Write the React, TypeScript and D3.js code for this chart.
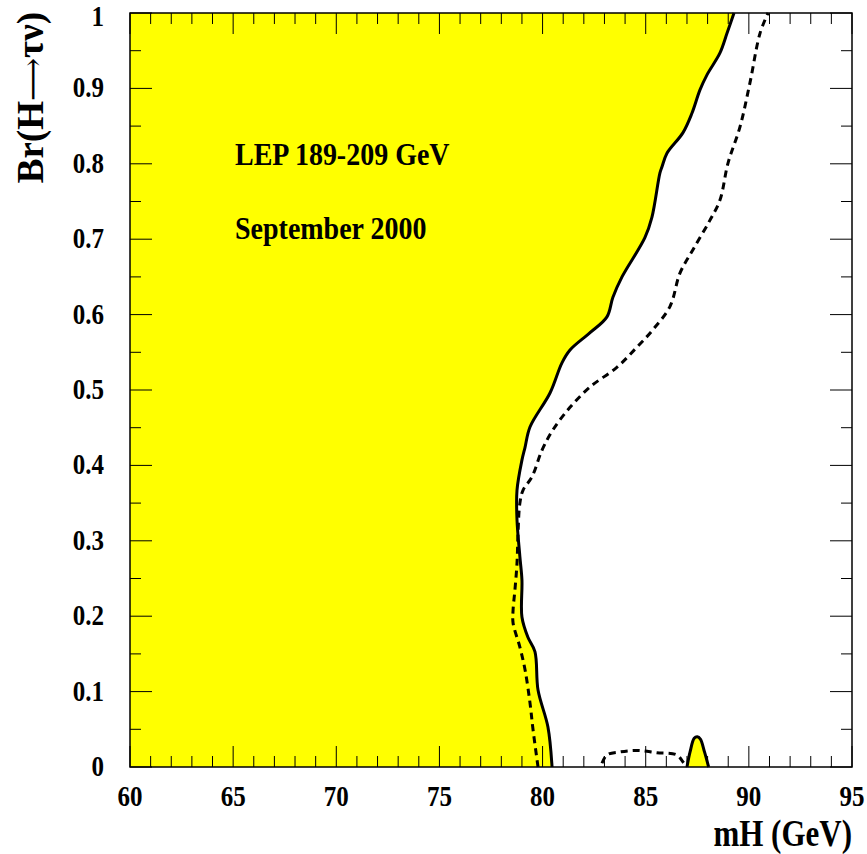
import React, { useEffect, useRef } from 'react';
import * as d3 from 'd3';

// observed exclusion boundary (solid), expected (dashed)
const solidMH = [80.46, 80.26, 79.78, 79.63, 79.29, 79.0, 79.0, 78.9, 78.76, 78.76, 79.0, 79.15, 79.39, 80.36, 80.94, 81.33, 82.3, 83.12, 83.41, 83.85, 84.96, 85.3, 85.69, 85.79, 86.03, 86.8, 87.24, 87.63, 87.97, 88.6, 88.94, 89.28];
const solidBr = [0, 0.053, 0.102, 0.153, 0.172, 0.199, 0.248, 0.279, 0.328, 0.367, 0.407, 0.424, 0.451, 0.496, 0.536, 0.553, 0.576, 0.597, 0.623, 0.65, 0.702, 0.729, 0.788, 0.796, 0.814, 0.841, 0.867, 0.898, 0.918, 0.947, 0.973, 1];

const dashedMH = [79.78, 79.54, 79.39, 79.15, 78.9, 78.57, 78.57, 78.66, 78.76, 78.81, 78.9, 79.05, 79.49, 79.97, 80.5, 81.33, 82.3, 83.6, 84.58, 85.35, 86.18, 86.66, 87.29, 88.11, 88.6, 88.99, 89.57, 90.05, 90.54, 90.93];
const dashedBr = [0, 0.049, 0.085, 0.129, 0.159, 0.191, 0.208, 0.235, 0.27, 0.31, 0.35, 0.367, 0.385, 0.42, 0.447, 0.477, 0.504, 0.53, 0.557, 0.58, 0.611, 0.655, 0.686, 0.725, 0.752, 0.801, 0.849, 0.907, 0.973, 1];

// small excluded island near 87.5 GeV
const islandMH = [87.0, 87.15, 87.35, 87.5, 87.65, 87.85, 88.05];
const islandBr = [0, 0.02, 0.038, 0.04, 0.037, 0.02, 0];

// small expected loop near the axis
const loopMH = [82.88, 83.12, 83.75, 84.6, 85.54, 86.51, 86.8, 87.0];
const loopBr = [0.005, 0.016, 0.02, 0.022, 0.019, 0.016, 0.007, 0];

const xTicks = [60, 65, 70, 75, 80, 85, 90, 95];
const yTicks = [0, 0.1, 0.2, 0.3, 0.4, 0.5, 0.6, 0.7, 0.8, 0.9, 1];

const W = 867;
const H = 854;
const M = { left: 130, right: 852, top: 13, bottom: 767 };
const FONT = '"Liberation Serif", "Times New Roman", serif';

const App = () => {
  const ref = useRef<SVGSVGElement>(null);

  useEffect(() => {
    const svg = d3.select(ref.current);
    svg.selectAll('*').remove();

    const x = d3.scaleLinear().domain([60, 95]).range([M.left, M.right]);
    const y = d3.scaleLinear().domain([0, 1]).range([M.bottom, M.top]);

    const toPts = (xs: number[], ys: number[]) => xs.map((v, i) => [v, ys[i]] as [number, number]);
    const line = d3.line<[number, number]>().x(d => x(d[0])).y(d => y(d[1])).curve(d3.curveCatmullRom.alpha(0.5));

    const solid = toPts(solidMH, solidBr);
    const area = d3.area<[number, number]>()
      .y(d => y(d[1]))
      .x0(() => x(60))
      .x1(d => x(d[0]))
      .curve(d3.curveCatmullRom.alpha(0.5));

    svg.append('rect').attr('x', 0).attr('y', 0).attr('width', W).attr('height', H).attr('fill', 'white');

    svg.append('path').attr('d', area(solid)).attr('fill', '#ffff00');
    svg.append('path').attr('d', line(toPts(islandMH, islandBr)) + 'Z').attr('fill', '#ffff00');

    // ticks (drawn over the fill)
    const g = svg.append('g').attr('stroke', 'black').attr('stroke-width', 1);
    d3.range(60, 95.01, 1).forEach(v => {
      const major = Math.abs(v % 5) < 1e-6;
      const len = major ? 21 : 11;
      g.append('line').attr('x1', x(v)).attr('x2', x(v)).attr('y1', M.bottom).attr('y2', M.bottom - len);
      g.append('line').attr('x1', x(v)).attr('x2', x(v)).attr('y1', M.top).attr('y2', M.top + len);
    });
    d3.range(0, 1.001, 0.05).forEach((v, i) => {
      const major = i % 2 === 0;
      const len = major ? 22 : 11;
      g.append('line').attr('y1', y(v)).attr('y2', y(v)).attr('x1', M.left).attr('x2', M.left + len);
      g.append('line').attr('y1', y(v)).attr('y2', y(v)).attr('x1', M.right).attr('x2', M.right - len);
    });

    // contours
    svg.append('path').attr('d', line(solid)).attr('fill', 'none').attr('stroke', 'black').attr('stroke-width', 3);
    svg.append('path').attr('d', line(toPts(islandMH, islandBr))).attr('fill', 'none').attr('stroke', 'black').attr('stroke-width', 3);
    svg.append('path').attr('d', line(toPts(dashedMH, dashedBr))).attr('fill', 'none').attr('stroke', 'black')
      .attr('stroke-width', 3).attr('stroke-dasharray', '7,5');
    svg.append('path').attr('d', line(toPts(loopMH, loopBr))).attr('fill', 'none').attr('stroke', 'black')
      .attr('stroke-width', 3).attr('stroke-dasharray', '7,5');

    // frame
    svg.append('rect').attr('x', M.left).attr('y', M.top).attr('width', M.right - M.left).attr('height', M.bottom - M.top)
      .attr('fill', 'none').attr('stroke', 'black').attr('stroke-width', 1.5);

    const t = svg.append('g').attr('font-family', FONT).attr('font-weight', 'bold').attr('fill', 'black');
    // tall, slightly condensed text like the original PostScript fonts
    const label = (tx: number, ty: number, size: number, anchor: string, str: string, sy = 1.15) =>
      t.append('text')
        .attr('transform', `translate(${tx},${ty}) scale(1,${sy})`)
        .attr('text-anchor', anchor)
        .attr('font-size', size)
        .text(str);

    xTicks.forEach(v => label(x(v), 806, 25, 'middle', String(v)));
    yTicks.forEach(v => label(104, v === 1 ? 26 : y(v) + 9, 25, 'end', v === 0 || v === 1 ? String(v) : v.toFixed(1)));

    label(852, 846, 31, 'end', 'mH (GeV)', 1.2);
    const yt = t.append('text').attr('transform', 'translate(43,12) rotate(-90)').attr('text-anchor', 'end').attr('font-size', 37);
    yt.append('tspan').text('Br(H');
    yt.append('tspan').attr('font-family', '"DejaVu Serif", serif').attr('font-weight', 'normal').attr('font-size', 30).text('\u27f6');
    yt.append('tspan').text('\u03c4\u03bd)');

    label(235, 165, 28, 'start', 'LEP 189-209 GeV', 1.1);
    label(235, 239, 28, 'start', 'September 2000', 1.1);
  }, []);

  return (
    <svg ref={ref} width={W} height={H} style={{ position: 'absolute', left: 0, top: 0, display: 'block' }} />
  );
};

export default App;
